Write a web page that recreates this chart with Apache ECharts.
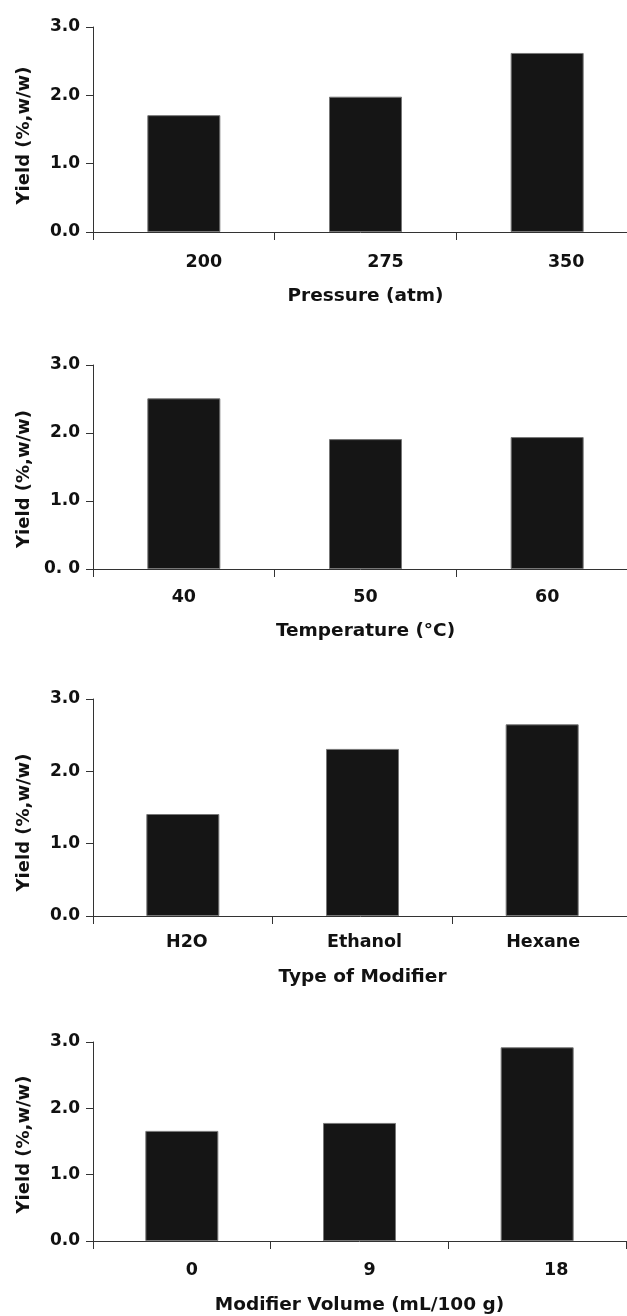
<!DOCTYPE html>
<html>
<head>
<meta charset="utf-8">
<script src="https://cdn.jsdelivr.net/npm/echarts@6/dist/echarts.min.js"></script>
<style>
  html, body { margin: 0; padding: 0; background: #fff; }
  #chart { width: 627px; height: 1316px; }
</style>
</head>
<body>
<div id="chart"></div>
<script>
// data
const pressureCats = ['200', '275', '350']
const pressureYield = [1.71, 1.98, 2.62]
const tempCats = ['40', '50', '60']
const tempYield = [2.51, 1.91, 1.94]
const modifierCats = ['H2O', 'Ethanol', 'Hexane']
const modifierYield = [1.41, 2.31, 2.65]
const volumeCats = ['0', '9', '18']
const volumeYield = [1.66, 1.78, 2.92]

const yTicks = ['0.0', '1.0', '2.0', '3.0']
const yTicksTemp = ['0. 0', '1.0', '2.0', '3.0']
const yName = 'Yield (%,w/w)'
const xNames = ['Pressure (atm)', 'Temperature (°C)', 'Type of Modifier', 'Modifier Volume (mL/100 g)']

const catsList = [pressureCats, tempCats, modifierCats, volumeCats]
const valuesList = [pressureYield, tempYield, modifierYield, volumeYield]
const yTickList = [yTicks, yTicksTemp, yTicks, yTicks]

// layout of each panel (px)
const panels = [
  { top: 27, height: 205, right: -11, labelMargin: 21, nameGap: 55, labelShift: [20, 20, 19], nameShift: 6 },
  { top: 365, height: 204, right: -11, labelMargin: 19, nameGap: 53, labelShift: [0, 0, 0], nameShift: 12 },
  { top: 699, height: 217, right: -5, labelMargin: 17, nameGap: 52, labelShift: [4, 2, 1], nameShift: 15 },
  { top: 1042, height: 199, right: 1, labelMargin: 20, nameGap: 55, labelShift: [10, 10, 19], nameShift: 3 }
]

const font = 'DejaVu Sans'
const axisColor = '#333'

const grid = [], xAxis = [], yAxis = [], series = []

panels.forEach((p, i) => {
  grid.push({
    left: 93,
    right: p.right,
    top: p.top,
    height: p.height,
    containLabel: false,
    outerBoundsMode: 'none'
  })
  xAxis.push({
    type: 'category',
    gridIndex: i,
    data: catsList[i].map((c, k) => ({
      value: c,
      textStyle: { padding: [0, 0, 0, 2 * p.labelShift[k]] }
    })),
    name: xNames[i],
    nameLocation: 'middle',
    nameGap: p.nameGap,
    nameTextStyle: { fontFamily: font, fontWeight: 'bold', fontSize: 18.5, color: '#111', lineHeight: 19 },
    axisLine: { show: true, lineStyle: { color: axisColor, width: 1 } },
    axisTick: { show: true, interval: 0, alignWithLabel: false, length: 8, lineStyle: { color: axisColor } },
    axisLabel: {
      interval: 0,
      margin: p.labelMargin,
      fontFamily: font,
      fontWeight: 'bold',
      fontSize: 17.5,
      lineHeight: 18,
      color: '#111'
    },
    splitLine: { show: false }
  })
  yAxis.push({
    type: 'value',
    gridIndex: i,
    min: 0,
    max: 3,
    interval: 1,
    name: yName,
    nameLocation: 'middle',
    nameGap: 60,
    nameTextStyle: {
      fontFamily: font, fontWeight: 'bold', fontSize: 18, color: '#111', lineHeight: 18,
      padding: [0, 2 * p.nameShift, 0, 0]
    },
    axisLine: { show: true, lineStyle: { color: axisColor, width: 1 } },
    axisTick: { show: true, length: 7, lineStyle: { color: axisColor } },
    axisLabel: {
      margin: 13,
      fontFamily: font,
      fontWeight: 'bold',
      fontSize: 17,
      color: '#111',
      formatter: (v) => yTickList[i][Math.round(v)]
    },
    splitLine: { show: false }
  })
  series.push({
    type: 'bar',
    xAxisIndex: i,
    yAxisIndex: i,
    data: valuesList[i],
    barWidth: 73,
    itemStyle: { color: '#151515', borderColor: '#777', borderWidth: 1 },
    silent: true
  })
})

const chart = echarts.init(document.getElementById('chart'))
chart.setOption({
  animation: false,
  backgroundColor: '#fff',
  grid: grid,
  xAxis: xAxis,
  yAxis: yAxis,
  series: series
})
</script>
</body>
</html>
